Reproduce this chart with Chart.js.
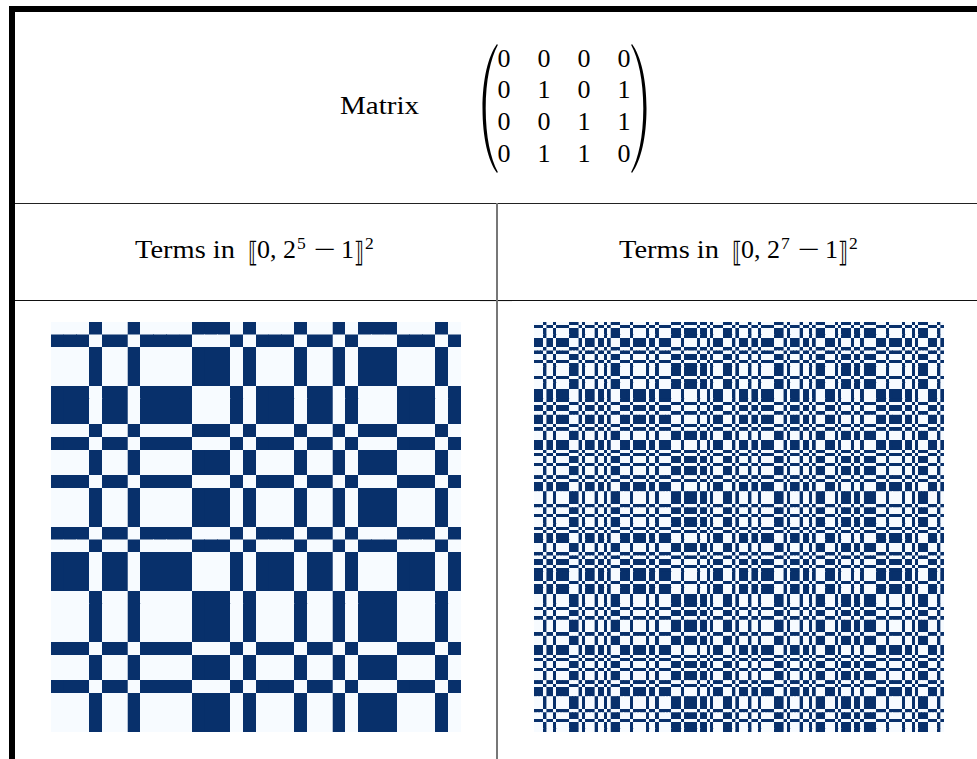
<!DOCTYPE html>
<html>
<head>
<meta charset="utf-8">
<title>Matrix terms</title>
<script src="https://cdn.jsdelivr.net/npm/chart.js@4/dist/chart.umd.min.js"></script>
<style>
    html, body { margin: 0; padding: 0; background: #fff; overflow: hidden; }
    #page { position: relative; width: 977px; height: 759px; }
    #page svg { position: absolute; left: 0; top: 0; }
    #page text { font-family: "Liberation Serif", serif; fill: #000; }
    #page text.bracket { font-family: "DejaVu Sans", sans-serif; font-size: 28px; }
    #page text.sup { font-size: 17.5px; }
    canvas { position: absolute; top: 322px; }
    #smallChart { left: 51px; }
    #bigChart { left: 534px; }
</style>
</head>
<body>
<div id="page">
    <svg width="977" height="759" font-size="26">
        <!-- table frame -->
        <rect x="9" y="6" width="968" height="6" fill="#000"/>
        <rect x="9" y="6" width="6" height="753" fill="#000"/>
        <rect x="15" y="203" width="962" height="1" fill="#222"/>
        <rect x="15" y="300" width="962" height="1" fill="#111"/>
        <rect x="480" y="301" width="32" height="1" fill="#eee"/>
        <rect x="496" y="203" width="2" height="556" fill="#777"/>

        <!-- matrix row -->
        <text x="340" y="114" textLength="79" lengthAdjust="spacingAndGlyphs">Matrix</text>
        <path d="M497,44 C488,56 482.5,80 482.5,108.5 C482.5,137 488,161 497,173 L497.8,172 C490.5,158 485.8,137 485.7,108.5 C485.8,80 490.5,59 497.8,45 Z"/>
        <path d="M632,44 C641,56 646.5,80 646.5,108.5 C646.5,137 641,161 632,173 L631.2,172 C638.5,158 643.2,137 643.3,108.5 C643.2,80 638.5,59 631.2,45 Z"/>
        <g text-anchor="middle">
            <text x="504" y="67">0</text><text x="544" y="67">0</text><text x="584" y="67">0</text><text x="624" y="67">0</text>
            <text x="504" y="98">0</text><text x="544" y="98">1</text><text x="584" y="98">0</text><text x="624" y="98">1</text>
            <text x="504" y="130">0</text><text x="544" y="130">0</text><text x="584" y="130">1</text><text x="624" y="130">1</text>
            <text x="504" y="162">0</text><text x="544" y="162">1</text><text x="584" y="162">1</text><text x="624" y="162">0</text>
        </g>

        <!-- column headers -->
        <g>
            <text x="135" y="258" textLength="100" lengthAdjust="spacingAndGlyphs">Terms in</text>
            <text class="bracket" x="248" y="262" textLength="10" lengthAdjust="spacingAndGlyphs">⟦</text>
            <text x="257" y="258">0,</text>
            <text x="283" y="258">2</text>
            <text class="sup" x="297" y="249">5</text>
            <text x="314" y="258" textLength="22" lengthAdjust="spacingAndGlyphs">−</text>
            <text x="341" y="258">1</text>
            <text class="bracket" x="354" y="262" textLength="10" lengthAdjust="spacingAndGlyphs">⟧</text>
            <text class="sup" x="365" y="249">2</text>
        </g>
        <g transform="translate(484 0)">
            <text x="135" y="258" textLength="100" lengthAdjust="spacingAndGlyphs">Terms in</text>
            <text class="bracket" x="248" y="262" textLength="10" lengthAdjust="spacingAndGlyphs">⟦</text>
            <text x="257" y="258">0,</text>
            <text x="283" y="258">2</text>
            <text class="sup" x="297" y="249">7</text>
            <text x="314" y="258" textLength="22" lengthAdjust="spacingAndGlyphs">−</text>
            <text x="341" y="258">1</text>
            <text class="bracket" x="354" y="262" textLength="10" lengthAdjust="spacingAndGlyphs">⟧</text>
            <text class="sup" x="365" y="249">2</text>
        </g>
    </svg>
    <canvas id="smallChart" width="410" height="410"></canvas>
    <canvas id="bigChart" width="410" height="410"></canvas>
</div>

<script>
// Values.
// Every picture only has two kinds of row, the second is the negative of the first.

const lightColor = "#f7fbff";
const darkColor = "#08306b";

// 32 x 32 picture
const smallRowA = [
    0,0,0,1, 0,0,1,0, 0,0,0,1, 1,1,0,1, 0,0,0,1, 0,0,1,0, 1,1,1,0, 0,0,1,0
];
const smallRowB = [
    1,1,1,0, 1,1,0,1, 1,1,1,0, 0,0,1,0, 1,1,1,0, 1,1,0,1, 0,0,0,1, 1,1,0,1
];
// which kind each row is, bottom row first
const smallRowKinds = [
    0,0,0,1, 0,0,1,0, 0,0,0,1, 1,1,0,1, 0,0,0,1, 0,0,1,0, 1,1,1,0, 0,0,1,0
];

// 128 x 128 picture
const bigRowA = [
    0,0,0,1, 0,0,1,0, 0,0,0,1, 1,1,0,1, 0,0,0,1, 0,0,1,0, 1,1,1,0, 0,0,1,0,
    0,0,0,1, 0,0,1,0, 0,0,0,1, 1,1,0,1, 1,1,1,0, 1,1,0,1, 0,0,0,1, 1,1,0,1,
    0,0,0,1, 0,0,1,0, 0,0,0,1, 1,1,0,1, 0,0,0,1, 0,0,1,0, 1,1,1,0, 0,0,1,0,
    1,1,1,0, 1,1,0,1, 1,1,1,0, 0,0,1,0, 0,0,0,1, 0,0,1,0, 1,1,1,0, 0,0,1,0
];
const bigRowB = [
    1,1,1,0, 1,1,0,1, 1,1,1,0, 0,0,1,0, 1,1,1,0, 1,1,0,1, 0,0,0,1, 1,1,0,1,
    1,1,1,0, 1,1,0,1, 1,1,1,0, 0,0,1,0, 0,0,0,1, 0,0,1,0, 1,1,1,0, 0,0,1,0,
    1,1,1,0, 1,1,0,1, 1,1,1,0, 0,0,1,0, 1,1,1,0, 1,1,0,1, 0,0,0,1, 1,1,0,1,
    0,0,0,1, 0,0,1,0, 0,0,0,1, 1,1,0,1, 1,1,1,0, 1,1,0,1, 0,0,0,1, 1,1,0,1
];
const bigRowKinds = [
    0,0,0,1, 0,0,1,0, 0,0,0,1, 1,1,0,1, 0,0,0,1, 0,0,1,0, 1,1,1,0, 0,0,1,0,
    0,0,0,1, 0,0,1,0, 0,0,0,1, 1,1,0,1, 1,1,1,0, 1,1,0,1, 0,0,0,1, 1,1,0,1,
    0,0,0,1, 0,0,1,0, 0,0,0,1, 1,1,0,1, 0,0,0,1, 0,0,1,0, 1,1,1,0, 0,0,1,0,
    1,1,1,0, 1,1,0,1, 1,1,1,0, 0,0,1,0, 0,0,0,1, 0,0,1,0, 1,1,1,0, 0,0,1,0
];


// One dataset per row, each cell is a floating bar one unit tall

function drawPicture(canvasId, rowA, rowB, rowKinds) {

    const datasets = rowKinds.map(function (kind, rowIndex) {
        const row = kind === 0 ? rowA : rowB;
        return {
            data: row.map(function () { return [rowIndex, rowIndex + 1]; }),
            backgroundColor: row.map(function (v) { return v ? darkColor : lightColor; }),
            borderWidth: 0,
            grouped: false,
            barPercentage: 1,
            categoryPercentage: 1
        };
    });

    new Chart(document.getElementById(canvasId), {
        type: "bar",
        data: {
            labels: rowA.map(function (v, i) { return String(i); }),
            datasets: datasets
        },
        options: {
            responsive: false,
            animation: false,
            events: [],
            // 5 times 3.2px gives whole pixels, so no seams show between cells
            devicePixelRatio: 5,
            layout: { padding: 0 },
            plugins: {
                legend: { display: false },
                tooltip: { enabled: false }
            },
            scales: {
                x: { display: false },
                y: { display: false, min: 0, max: rowKinds.length }
            }
        }
    });
}

drawPicture("smallChart", smallRowA, smallRowB, smallRowKinds);
drawPicture("bigChart", bigRowA, bigRowB, bigRowKinds);
</script>
</body>
</html>
